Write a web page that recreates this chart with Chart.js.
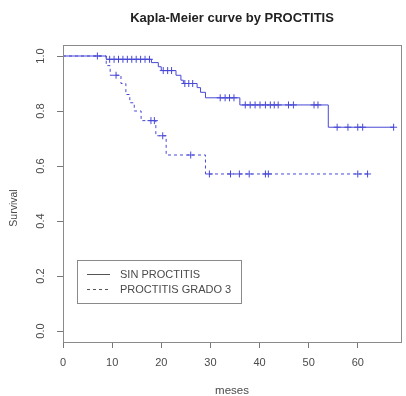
<!DOCTYPE html>
<html>
<head>
<meta charset="utf-8">
<script src="https://cdn.jsdelivr.net/npm/chart.js@4"></script>
<style>
    body { margin: 0; background: #fff; }
    canvas { display: block; }
</style>
</head>
<body>
<canvas id="kmChart" width="406" height="396"></canvas>
<script>
const $ = id => document.getElementById(id);

// 曲线数据 (tiempo en meses, supervivencia)
const sinTime = [0, 8.8, 18.0, 19.4, 20.0, 23.0, 24.0, 24.5, 27.3, 28.0, 29.0, 36.0, 54.0, 67.3];
const sinSurv = [1.0, 0.988, 0.976, 0.961, 0.947, 0.93, 0.912, 0.90, 0.885, 0.868, 0.848, 0.822, 0.741, 0.741];
const sinCensor = [7.0, 9.5, 10.4, 11.3, 12.2, 13.1, 14.0, 14.9, 15.8, 16.7, 17.6, 20.4, 21.3, 22.1,
    24.8, 25.6, 26.4, 32.0, 33.0, 33.9, 34.8, 37.1, 38.1, 39.1, 40.1, 41.2, 42.2, 43.0, 43.8,
    45.9, 46.9, 51.1, 51.9, 55.8, 58.0, 60.0, 61.0, 67.3];

const grdTime = [0, 8.8, 9.6, 11.8, 12.8, 13.6, 14.5, 15.9, 18.9, 21.0, 29.0, 62.4];
const grdSurv = [1.0, 0.965, 0.93, 0.90, 0.86, 0.83, 0.80, 0.765, 0.71, 0.64, 0.571, 0.571];
const grdCensor = [10.8, 17.9, 18.6, 20.3, 26.0, 29.8, 34.1, 35.9, 37.9, 41.2, 41.8, 60.0, 62.0];

const xTicks = [0, 10, 20, 30, 40, 50, 60];
const yTicks = [0, 0.2, 0.4, 0.6, 0.8, 1.0];
const legendLabels = ['SIN PROCTITIS', 'PROCTITIS GRADO 3'];

const BLUE = 'rgb(72,72,215)';
const TXT = '#4a4a4a';

// valor de la curva escalonada en t
const levelAt = (times, surv, t) => {
    let v = surv[0];
    times.forEach((tt, i) => { if (tt <= t) v = surv[i]; });
    return v;
};
const toPoints = (times, surv) => times.map((t, i) => ({x: t, y: surv[i]}));
const censorPoints = (cens, times, surv) => cens.map(t => ({x: t, y: levelAt(times, surv, t)}));

const decor = {
    id: 'decor',
    afterDraw: chart => {
        const {ctx, chartArea: a} = chart;
        ctx.save();
        // caja
        ctx.strokeStyle = '#8a8a8a';
        ctx.lineWidth = 1;
        ctx.strokeRect(Math.round(a.left) + 0.5, Math.round(a.top) + 0.5,
            Math.round(a.right - a.left), Math.round(a.bottom - a.top));

        const cx = (a.left + a.right) / 2;
        ctx.textAlign = 'center';
        ctx.textBaseline = 'middle';
        ctx.fillStyle = '#222';
        ctx.font = 'bold 13px "Liberation Sans", Arial, sans-serif';
        ctx.fillText('Kapla-Meier curve by PROCTITIS', cx, 18);

        ctx.fillStyle = TXT;
        ctx.font = '11.5px "Liberation Sans", Arial, sans-serif';
        ctx.fillText('meses', cx, 391);

        ctx.save();
        ctx.translate(14, 208);
        ctx.rotate(-Math.PI / 2);
        ctx.font = '10.5px "Liberation Sans", Arial, sans-serif';
        ctx.fillText('Survival', 0, 0);
        ctx.restore();

        // leyenda
        const lx = a.left + 14, ly = a.top + 215;
        ctx.strokeStyle = '#8a8a8a';
        ctx.strokeRect(Math.round(lx) + 0.5, Math.round(ly) + 0.5, 164, 43);
        ctx.strokeStyle = '#555';
        ctx.font = '11px "Liberation Sans", Arial, sans-serif';
        ctx.textAlign = 'left';
        legendLabels.forEach((lab, i) => {
            const y = Math.round(ly + 14 + i * 15) + 0.5;
            ctx.setLineDash(i === 0 ? [] : [3, 3]);
            ctx.beginPath();
            ctx.moveTo(lx + 10, y);
            ctx.lineTo(lx + 33, y);
            ctx.stroke();
            ctx.fillText(lab, lx + 43, y);
        });
        ctx.restore();
    }
};

const drawChart = () => {
    const ctx = $('kmChart').getContext('2d');
    new Chart(ctx, {
        type: 'line',
        data: {
            datasets: [
                {
                    label: legendLabels[0],
                    data: toPoints(sinTime, sinSurv),
                    borderColor: BLUE,
                    borderWidth: 1,
                    stepped: 'before',
                    pointRadius: 0,
                    fill: false
                },
                {
                    label: legendLabels[1],
                    data: toPoints(grdTime, grdSurv),
                    borderColor: BLUE,
                    borderWidth: 1,
                    borderDash: [3, 3],
                    stepped: 'before',
                    pointRadius: 0,
                    fill: false
                },
                {
                    type: 'scatter',
                    data: censorPoints(sinCensor, sinTime, sinSurv),
                    borderColor: BLUE,
                    borderWidth: 1,
                    pointStyle: 'cross',
                    pointRadius: 3.5,
                    showLine: false
                },
                {
                    type: 'scatter',
                    data: censorPoints(grdCensor, grdTime, grdSurv),
                    borderColor: BLUE,
                    borderWidth: 1,
                    pointStyle: 'cross',
                    pointRadius: 3.5,
                    showLine: false
                }
            ]
        },
        options: {
            responsive: false,
            animation: false,
            layout: {padding: {top: 45, right: 3, left: 0, bottom: 0}},
            plugins: {legend: {display: false}, tooltip: {enabled: false}},
            scales: {
                x: {
                    type: 'linear',
                    min: 0,
                    max: 68.8,
                    afterBuildTicks: s => { s.ticks = xTicks.map(v => ({value: v})); },
                    afterFit: s => { s.height = 54; },
                    border: {display: false},
                    grid: {drawOnChartArea: false, tickLength: 6, tickColor: '#777'},
                    ticks: {
                        color: TXT,
                        padding: 8,
                        maxRotation: 0,
                        font: {family: '"Liberation Sans", Arial, sans-serif', size: 11}
                    }
                },
                y: {
                    type: 'linear',
                    min: -0.04,
                    max: 1.04,
                    afterBuildTicks: s => { s.ticks = yTicks.map(v => ({value: v})); },
                    afterFit: s => { s.width = 63; },
                    border: {display: false},
                    grid: {drawOnChartArea: false, tickLength: 6, tickColor: '#777'},
                    ticks: {
                        color: TXT,
                        padding: 8,
                        minRotation: 90,
                        maxRotation: 90,
                        crossAlign: 'center',
                        callback: v => v.toFixed(1),
                        font: {family: '"Liberation Sans", Arial, sans-serif', size: 11}
                    }
                }
            }
        },
        plugins: [decor]
    });
};

window.onload = () => {
    drawChart();
};
</script>
</body>
</html>
